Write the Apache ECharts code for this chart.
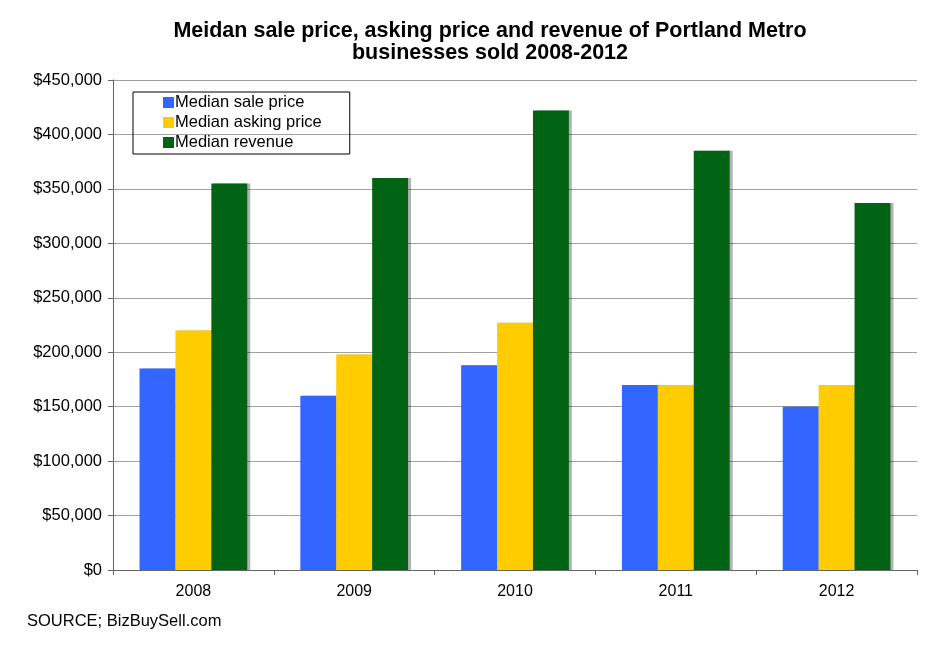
<!DOCTYPE html>
<html>
<head>
<meta charset="utf-8">
<script src="https://cdn.jsdelivr.net/npm/echarts@6/dist/echarts.min.js"></script>
<style>
  html, body { margin: 0; padding: 0; background: #fff; }
  #main { width: 948px; height: 645px; }
</style>
</head>
<body>
<div id="main"></div>
<script>
// values
var years = ["2008", "2009", "2010", "2011", "2012"];
var salePrice = [185000, 160000, 188000, 170000, 150000];
var askingPrice = [220000, 198000, 227000, 170000, 170000];
var revenue = [355000, 360000, 422000, 385000, 337000];

var chart = echarts.init(document.getElementById('main'));

function barSeries(name, data, color) {
    return {
        name: name,
        type: 'bar',
        data: data,
        barGap: '0%',
        barCategoryGap: '33%',
        itemStyle: {
            color: color,
            shadowColor: 'rgba(0,0,0,0.3)',
            shadowOffsetX: 3,
            shadowBlur: 0
        }
    };
}

var option = {
    animation: false,
    textStyle: { fontFamily: 'Liberation Sans, Arial, sans-serif' },
    title: {
        text: 'Meidan sale price, asking price and revenue of Portland Metro\nbusinesses sold 2008-2012',
        left: 485,
        textAlign: 'center',
        top: 15,
        textStyle: { fontSize: 21.5, fontWeight: 'bold', color: '#000', lineHeight: 22 }
    },
    graphic: [{
        type: 'text',
        left: 27,
        top: 613,
        style: { text: 'SOURCE; BizBuySell.com', fill: '#000', font: '16.5px Liberation Sans' }
    }],
    legend: {
        orient: 'vertical',
        left: 133,
        top: 92,
        icon: 'rect',
        itemWidth: 11,
        itemHeight: 11,
        itemGap: 3,
        padding: [2, 28, 3, 30],
        borderColor: '#000',
        borderWidth: 1,
        textStyle: { fontSize: 16.5, color: '#000', padding: [0, 0, 0, -4] },
        data: ['Median sale price', 'Median asking price', 'Median revenue']
    },
    grid: { left: 113, right: 31, top: 80, bottom: 75 },
    xAxis: {
        type: 'category',
        data: years,
        axisLine: { lineStyle: { color: '#666', width: 1 } },
        axisTick: { show: true, length: 5, lineStyle: { color: '#666' } },
        axisLabel: { color: '#000', fontSize: 16, margin: 14 }
    },
    yAxis: {
        type: 'value',
        min: 0,
        max: 450000,
        interval: 50000,
        axisLine: { show: true, lineStyle: { color: '#666' } },
        axisTick: { show: true, length: 5, lineStyle: { color: '#666' } },
        axisLabel: {
            color: '#000',
            fontSize: 16.5,
            margin: 11,
            formatter: function (v) { return '$' + v.toLocaleString('en-US'); }
        },
        splitLine: { lineStyle: { color: '#a0a0a0', width: 1 } }
    },
    series: [
        barSeries('Median sale price', salePrice, '#3366ff'),
        barSeries('Median asking price', askingPrice, '#ffcc00'),
        barSeries('Median revenue', revenue, '#006414')
    ]
};
chart.setOption(option);
</script>
</body>
</html>
